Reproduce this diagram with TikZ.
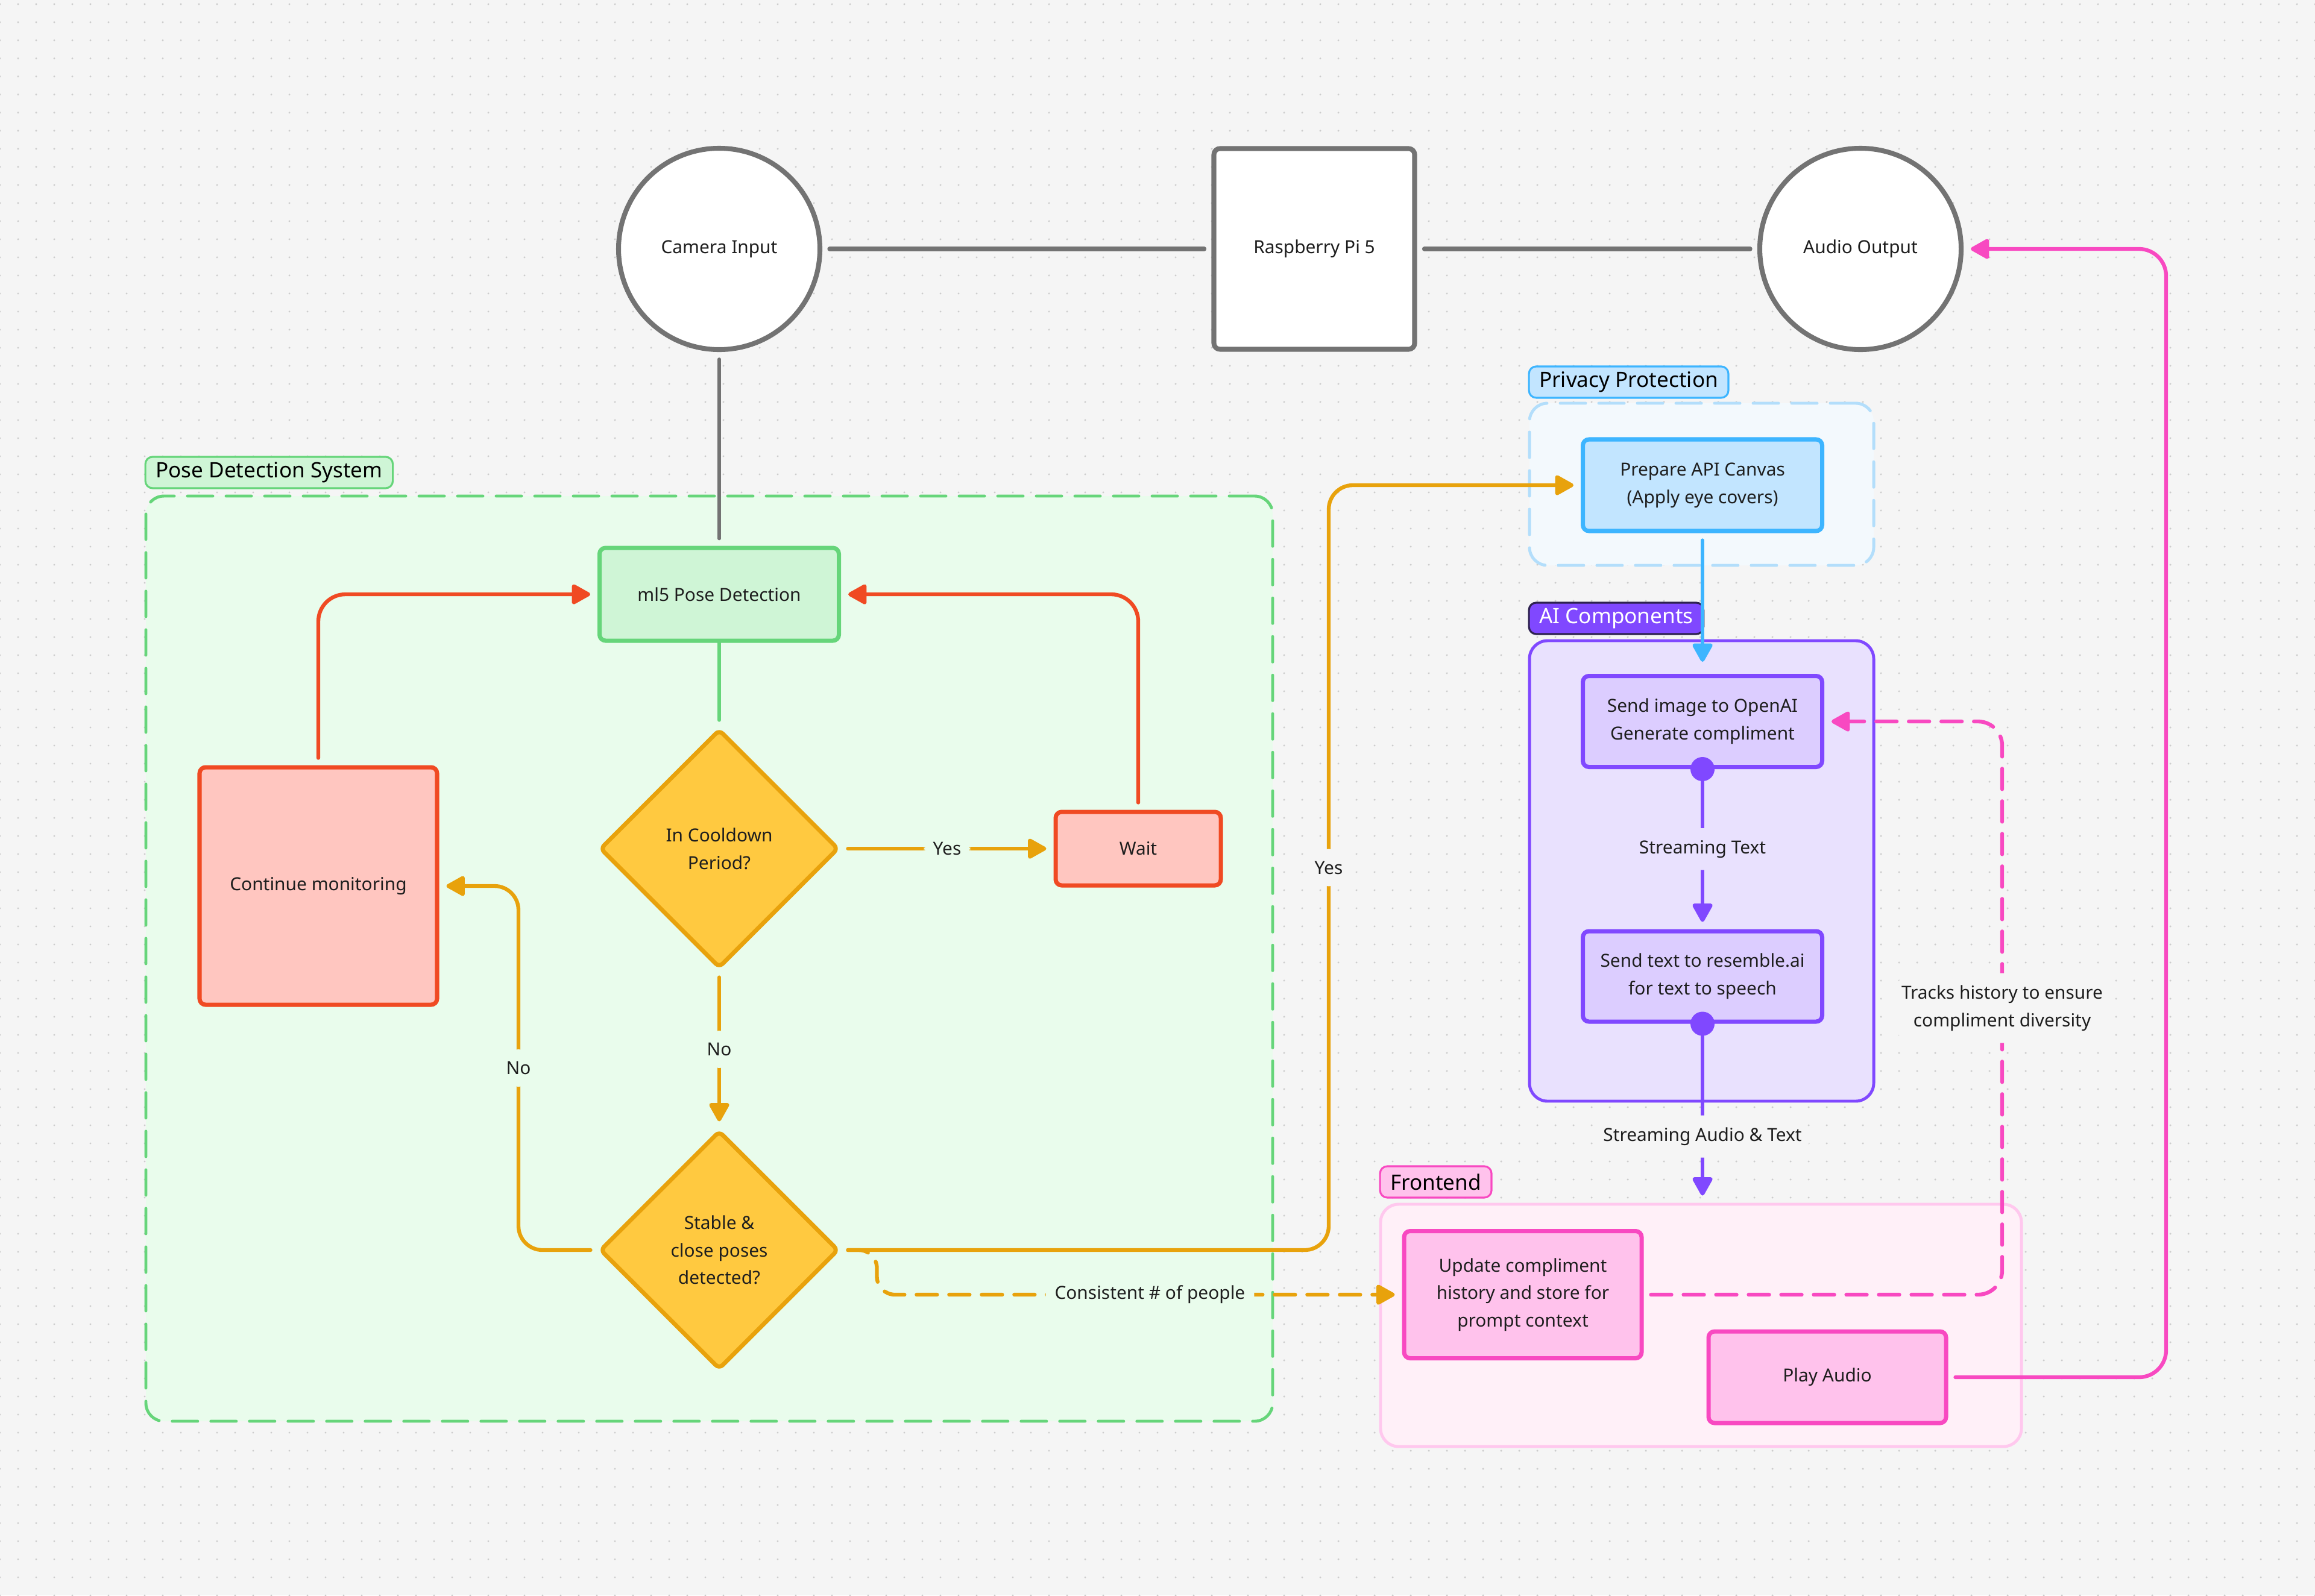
\documentclass[tikz,border=0pt]{standalone}
\usepackage{fontspec}
\setmainfont{Noto Sans}
\usepackage{tikz}
\usetikzlibrary{positioning,calc,shapes.geometric,arrows.meta,patterns.meta}

\begin{document}
\begin{tikzpicture}[
		x=1cm,y=1cm,
		>={Triangle[length=0.34cm,width=0.36cm,round]},
		line cap=round,line join=round,
		font=\fontsize{8.5}{13}\selectfont
		]
		% ---- colors
		\definecolor{bgGray}{HTML}{F5F5F5}
		\definecolor{dotGray}{HTML}{CDCDCD}
		\definecolor{txtDark}{HTML}{1E1E1E}
		\definecolor{hwGray}{HTML}{737373}
		\definecolor{poseGreen}{HTML}{66D57A}
		\definecolor{poseFill}{HTML}{CFF5D6}
		\definecolor{poseBg}{HTML}{E9FCEC}
		\definecolor{waitRed}{HTML}{F04A23}
		\definecolor{waitFill}{HTML}{FFC6C0}
		\definecolor{decOrange}{HTML}{E8A20C}
		\definecolor{decYellow}{HTML}{FFC940}
		\definecolor{privBlue}{HTML}{3DB5FF}
		\definecolor{privFill}{HTML}{C2E5FF}
		\definecolor{privBg}{HTML}{F3F9FD}
		\definecolor{privDash}{HTML}{B3DEFB}
		\definecolor{aiPurple}{HTML}{8048FF}
		\definecolor{aiFill}{HTML}{DCCDFF}
		\definecolor{aiBg}{HTML}{E9E1FE}
		\definecolor{aiEdge}{HTML}{2E2250}
		\definecolor{fePink}{HTML}{F849C1}
		\definecolor{feFill}{HTML}{FFC2EC}
		\definecolor{feBg}{HTML}{FFF0F8}
		\definecolor{feEdge}{HTML}{FFC8EE}
		
		% ---- styles
		\tikzset{
			box/.style={draw, line width=2pt, rounded corners=0.1cm, align=center, text=txtDark, inner sep=0pt},
			hwcirc/.style={circle, draw=hwGray, fill=white, line width=2.3pt, minimum size=3.34cm, inner sep=0pt, text=txtDark},
			hwbox/.style={draw=hwGray, fill=white, line width=2.3pt, rounded corners=0.1cm, minimum width=3.33cm, minimum height=3.33cm, inner sep=0pt, text=txtDark},
			dec/.style={diamond, draw=decOrange, fill=decYellow, line width=2pt, rounded corners=0.08cm, minimum width=3.96cm, minimum height=3.96cm, inner sep=0pt, align=center, text=txtDark},
			grp/.style={line width=1.4pt, rounded corners=0.3cm, inner sep=0pt},
			grplbl/.style={anchor=south west, line width=0.9pt, rounded corners=0.12cm, font=\fontsize{10}{12}\selectfont, minimum height=0.52cm, inner xsep=0.17cm, inner ysep=0pt},
			lbl/.style={fill=#1, inner xsep=0.15cm, inner ysep=0.2cm, text=txtDark, align=center},
			hwline/.style={draw=hwGray, shorten <=0.12cm, shorten >=0.12cm},
			flow/.style={line width=1.8pt, rounded corners=0.4cm, shorten <=0.12cm, shorten >=0.12cm},
			dashflow/.style={flow, dash pattern=on 0.34cm off 0.2cm}
		}
		
		% ---- canvas
		\def\W{38.4}
		\def\H{26.47}
		\useasboundingbox (0,0) rectangle (\W,-\H);
		\fill[bgGray] (0,0) rectangle (\W,-\H);
		\fill[pattern={Dots[distance=0.3cm,radius=0.017cm]}, pattern color=dotGray] (0,0) rectangle (\W,-\H);
		
		% ---- groups
		\node[grp, draw=poseGreen, fill=poseBg, dash pattern=on 0.42cm off 0.22cm,
		minimum width=18.69cm, minimum height=15.35cm] (poseGrp) at (11.765,-15.905) {};
		\node[grp, draw=privDash, fill=privBg, dash pattern=on 0.42cm off 0.22cm,
		minimum width=5.71cm, minimum height=2.69cm] (privGrp) at (28.225,-8.035) {};
		\node[grp, draw=aiPurple, fill=aiBg, minimum width=5.71cm, minimum height=7.64cm] (aiGrp) at (28.225,-14.45) {};
		\node[grp, draw=feEdge, fill=feBg, minimum width=10.63cm, minimum height=4.02cm] (feGrp) at (28.215,-21.99) {};
		
		\node[grplbl, draw=poseGreen, fill=poseFill] (poseLbl) at ($(poseGrp.north west)+(0,0.09)$) {Pose Detection System};
		\node[grplbl, draw=privBlue, fill=privFill] (privLbl) at ($(privGrp.north west)+(0,0.05)$) {Privacy Protection};
		\node[grplbl, draw=aiEdge, fill=aiPurple, text=white] (aiLbl) at ($(aiGrp.north west)+(0,0.07)$) {AI Components};
		\node[grplbl, draw=fePink, fill=feFill] (feLbl) at ($(feGrp.north west)+(0,0.07)$) {Frontend};
		
		% ---- hardware
		\node[hwcirc] (cam) at (11.93,-4.13) {Camera Input};
		\node[hwbox] (rpi) at (21.80,-4.13) {Raspberry Pi 5};
		\node[hwcirc] (aud) at (30.86,-4.13) {Audio Output};
		
		% ---- pose detection nodes
		\node[box, draw=poseGreen, fill=poseFill, minimum width=3.97cm, minimum height=1.54cm] (ml5) at (11.93,-9.86) {ml5 Pose Detection};
		\node[box, draw=waitRed, fill=waitFill, minimum width=3.94cm, minimum height=3.94cm] (cont) at (5.28,-14.70) {Continue monitoring};
		\node[dec] (cool) at (11.93,-14.08) {In Cooldown\\Period?};
		\node[box, draw=waitRed, fill=waitFill, minimum width=2.74cm, minimum height=1.22cm] (wait) at (18.88,-14.08) {Wait};
		\node[dec] (stab) at (11.93,-20.74) {Stable \&\\close poses\\detected?};
		
		% ---- privacy / ai / frontend nodes
		\node[box, draw=privBlue, fill=privFill, minimum width=3.97cm, minimum height=1.52cm] (prep) at (28.24,-8.05) {Prepare API Canvas\\(Apply eye covers)};
		\node[box, draw=aiPurple, fill=aiFill, minimum width=3.97cm, minimum height=1.51cm] (simg) at (28.24,-11.97) {Send image to OpenAI\\Generate compliment};
		\node[box, draw=aiPurple, fill=aiFill, minimum width=3.97cm, minimum height=1.5cm] (stxt) at (28.24,-16.20) {Send text to resemble.ai\\for text to speech};
		\node[box, draw=fePink, fill=feFill, minimum width=3.94cm, minimum height=2.11cm] (upd) at (25.26,-21.48) {Update compliment\\history and store for\\prompt context};
		\node[box, draw=fePink, fill=feFill, minimum width=3.94cm, minimum height=1.52cm] (play) at (30.31,-22.85) {Play Audio};
		
		% ---- turn points
		\coordinate (noTurn) at (8.60,-14.70);
		\coordinate (yesTurn) at (22.04,-8.05);
		\coordinate (trkTurn) at (33.21,-11.97);
		\coordinate (audTurn) at (35.93,-4.13);
		
		% ---- hardware links
		\draw[hwline, line width=2.1pt] (cam) -- (rpi);
		\draw[hwline, line width=2.1pt] (rpi) -- (aud);
		\draw[hwline, line width=1.6pt] (cam) -- (ml5);
		
		% ---- pose loop
		\draw[flow, draw=poseGreen, shorten <=0pt] (ml5) -- (cool);
		\draw[flow, ->, draw=decOrange] (cool) -- node[lbl=poseBg] {Yes} (wait);
		\draw[flow, ->, draw=waitRed, rounded corners=0.45cm] (wait.north) |- (ml5.east);
		\draw[flow, ->, draw=waitRed, rounded corners=0.45cm] (cont.north) |- (ml5.west);
		\draw[flow, ->, draw=decOrange] (cool) -- node[lbl=poseBg] {No} (stab);
		\draw[flow, ->, draw=decOrange] (stab.west) -| node[pos=0.75, lbl=poseBg] {No} (noTurn) -- (cont.east);
		
		% ---- out of the pose system
		\draw[flow, ->, draw=decOrange] (stab.east) -| node[pos=0.75, lbl=bgGray] {Yes} (yesTurn) -- (prep.west);
		\draw[dashflow, ->, draw=decOrange, rounded corners=0.3cm] (stab.east) -- ++(0.6,0) |- node[pos=0.76, lbl=poseBg] {Consistent \# of people} (upd.west);
		
		% ---- ai pipeline
		\draw[flow, ->, draw=privBlue, shorten >=0.2cm] (prep) -- (simg);
		\draw[flow, ->, draw=aiPurple, shorten <=0pt] (simg.south) -- node[lbl=aiBg] {Streaming Text} (stxt.north);
		\fill[aiPurple] (simg.south) circle (0.2);
		\draw[flow, ->, draw=aiPurple, shorten <=0pt] (stxt.south) -- node[pos=0.63, lbl=bgGray] {Streaming Audio \& Text} (stxt.south |- feGrp.north);
		\fill[aiPurple] (stxt.south) circle (0.2);
		
		% ---- frontend links
		\draw[dashflow, ->, draw=fePink] (upd.east) -| node[pos=0.75, lbl=bgGray] {Tracks history to ensure\\compliment diversity} (trkTurn) -- (simg.east);
		\draw[flow, ->, draw=fePink, rounded corners=0.45cm] (play.east) -| (audTurn) -- (aud.east);
		
	\end{tikzpicture}
\end{document}
